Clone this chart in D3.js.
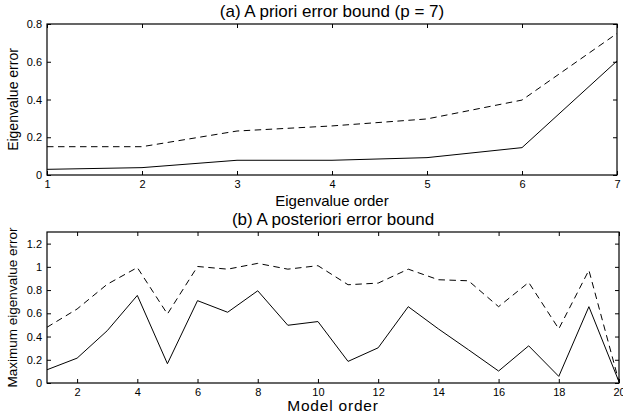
<!DOCTYPE html>
<html><head><meta charset="utf-8">
<script src="https://cdn.jsdelivr.net/npm/d3@7"></script>
<style>
html,body{margin:0;padding:0;background:#fff;}
svg{display:block;font-family:"Liberation Sans",Arial,Helvetica,sans-serif;}
</style></head>
<body>
<svg id="c" width="623" height="414"></svg>
<script>
// Panel (a)
const orderA = [1,2,3,4,5,6,7];
const solidA = [0.030,0.039,0.078,0.078,0.092,0.145,0.604];
const dashA  = [0.150,0.150,0.233,0.260,0.297,0.397,0.750];
const yTicksA = [0,0.2,0.4,0.6,0.8];
const xTicksA = [1,2,3,4,5,6,7];
// Panel (b)
const orderB = d3.range(1,21);
const solidB = [0.114,0.214,0.45,0.754,0.166,0.709,0.609,0.794,0.497,0.529,0.186,0.303,0.657,0.466,0.286,0.103,0.32,0.057,0.657,0.01];
const dashB  = [0.48,0.637,0.85,0.994,0.594,1.003,0.98,1.03,0.98,1.01,0.846,0.86,0.98,0.889,0.88,0.657,0.866,0.466,0.971,0.01];
const yTicksB = [0,0.2,0.4,0.6,0.8,1,1.2];
const xTicksB = [2,4,6,8,10,12,14,16,18,20];

const svg = d3.select("#c");

function panel(o){
  const g = svg.append("g");
  const x = d3.scaleLinear().domain(o.xd).range([o.l,o.r]);
  const y = d3.scaleLinear().domain(o.yd).range([o.b,o.t]);
  const fmt = d => String(d);
  const tl = 4;
  g.append("g").attr("transform",`translate(0,${o.b})`)
    .call(d3.axisBottom(x).tickValues(o.xt).tickSize(-tl).tickPadding(5).tickFormat(fmt))
    .call(a=>{a.select(".domain").remove();a.selectAll("text").attr("font-size",11).attr("fill","#000");a.selectAll("line").attr("stroke","#000");});
  g.append("g").attr("transform",`translate(0,${o.t})`)
    .call(d3.axisTop(x).tickValues(o.xt).tickSize(-tl).tickFormat(""))
    .call(a=>{a.select(".domain").remove();a.selectAll("line").attr("stroke","#000");});
  g.append("g").attr("transform",`translate(${o.l},0)`)
    .call(d3.axisLeft(y).tickValues(o.yt).tickSize(-tl).tickPadding(5).tickFormat(fmt))
    .call(a=>{a.select(".domain").remove();a.selectAll("text").attr("font-size",11).attr("fill","#000");a.selectAll("line").attr("stroke","#000");});
  g.append("g").attr("transform",`translate(${o.r},0)`)
    .call(d3.axisRight(y).tickValues(o.yt).tickSize(-tl).tickFormat(""))
    .call(a=>{a.select(".domain").remove();a.selectAll("line").attr("stroke","#000");});
  g.append("rect").attr("x",o.l).attr("y",o.t).attr("width",o.r-o.l).attr("height",o.b-o.t)
    .attr("fill","none").attr("stroke","#000").attr("stroke-width",1.2);
  const line = d3.line().x((d,i)=>x(o.xs[i])).y(d=>y(d));
  g.append("path").datum(o.dash).attr("d",line).attr("fill","none").attr("stroke","#000")
    .attr("stroke-width",1).attr("stroke-dasharray","6.5,4.5");
  g.append("path").datum(o.solid).attr("d",line).attr("fill","none").attr("stroke","#000")
    .attr("stroke-width",1);
  g.append("text").attr("x",o.titleX).attr("y",o.titleY).attr("text-anchor","middle")
    .attr("font-size",17).text(o.title);
  g.append("text").attr("x",o.titleX).attr("y",o.xlabY).attr("text-anchor","middle")
    .attr("font-size",o.xlabSize).attr("letter-spacing",o.xlabLS).text(o.xlab);
  g.append("text").attr("transform",`translate(${o.ylabX},${(o.t+o.b)/2}) rotate(-90)`)
    .attr("text-anchor","middle").attr("font-size",o.ylabSize).text(o.ylab);
}

panel({xd:[1,7],yd:[0,0.8],l:47,r:617,t:24,b:175,xt:xTicksA,yt:yTicksA,xs:orderA,solid:solidA,dash:dashA,
  title:"(a) A priori error bound (p = 7)",titleX:332,titleY:16.5,xlab:"Eigenvalue order",xlabY:206,xlabSize:15,xlabLS:0,
  ylab:"Eigenvalue error",ylabX:18,ylabSize:14});
panel({xd:[1,20],yd:[0,1.3],l:47,r:619,t:232,b:383,xt:xTicksB,yt:yTicksB,xs:orderB,solid:solidB,dash:dashB,
  title:"(b) A posteriori error bound",titleX:333,titleY:225,xlab:"Model order",xlabY:410.5,xlabSize:15.5,xlabLS:0.8,
  ylab:"Maximum eigenvalue error",ylabX:17,ylabSize:13.5});
</script>
</body></html>
